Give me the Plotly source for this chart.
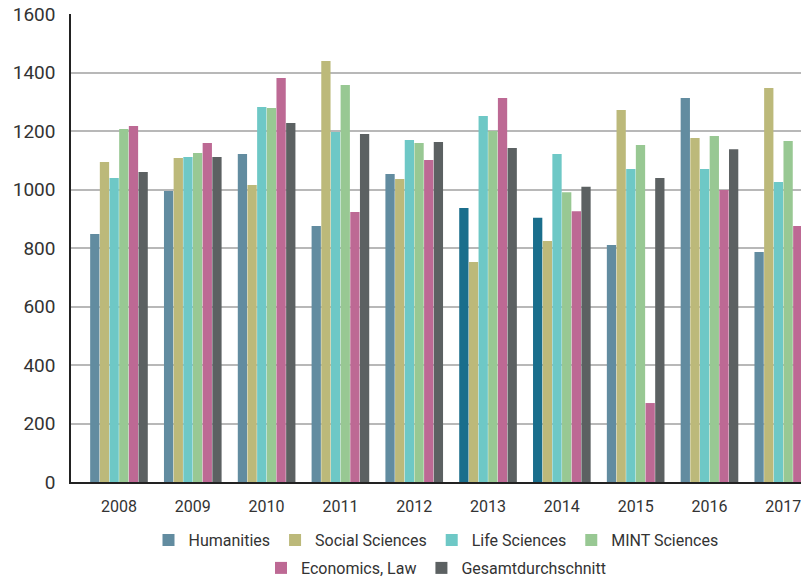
import plotly.graph_objects as go

years = ["2008", "2009", "2010", "2011", "2012", "2013", "2014", "2015", "2016", "2017"]
humanities = [848, 995, 1121, 875, 1053, 937, 903, 810, 1313, 786]
social = [1094, 1108, 1015, 1439, 1036, 752, 824, 1272, 1176, 1347]
life = [1039, 1111, 1282, 1197, 1169, 1251, 1121, 1070, 1070, 1026]
mint = [1207, 1125, 1279, 1357, 1159, 1200, 991, 1152, 1183, 1166]
economics = [1217, 1159, 1381, 923, 1101, 1313, 926, 270, 998, 875]
gesamt = [1060, 1111, 1227, 1190, 1162, 1142, 1009, 1039, 1138, 1100]

hum_colors = ["#628ca0"] * 5 + ["#1a6e8c", "#1a6e8c"] + ["#628ca0"] * 3

series = [
    ("Humanities", humanities, hum_colors, "legend"),
    ("Social Sciences", social, "#bcb97a", "legend"),
    ("Life Sciences", life, "#6ec8c6", "legend"),
    ("MINT Sciences", mint, "#98c893", "legend"),
    ("Economics, Law", economics, "#bd6994", "legend2"),
    ("Gesamtdurchschnitt", gesamt, "#5c6162", "legend2"),
]

fig = go.Figure()
for name, vals, col, lg in series:
    fig.add_trace(go.Bar(
        x=years, y=vals, name=name, marker=dict(color=col, line=dict(width=0)),
        legend=lg,
    ))

font_family = "Roboto, DejaVu Sans, sans-serif"
fig.update_layout(
    width=801, height=578,
    margin=dict(l=71, r=0, t=14, b=96, autoexpand=False),
    plot_bgcolor="white", paper_bgcolor="white",
    barmode="group", bargap=0.214, bargroupgap=0.04,
    font=dict(family=font_family, color="#333333"),
    xaxis=dict(
        type="category", range=[-0.65, 9.24], showgrid=False,
        showline=True, linecolor="#222222", linewidth=1.5,
        tickfont=dict(size=16, color="#333333"), ticks="", automargin=False,
        ticklabelstandoff=9,
    ),
    yaxis=dict(
        range=[0, 1600], tickvals=[0, 200, 400, 600, 800, 1000, 1200, 1400, 1600],
        showgrid=True, gridcolor="#b8b8b8", gridwidth=1.5,
        showline=True, linecolor="#222222", linewidth=1.5,
        tickfont=dict(size=19, color="#333333"), ticks="", automargin=False,
        zeroline=False, ticklabelstandoff=10,
    ),
    legend=dict(
        orientation="h", x=0.5, xanchor="center",
        yref="container", y=38 / 578, yanchor="middle",
        font=dict(size=16, color="#333333"), traceorder="normal",
    ),
    legend2=dict(
        orientation="h", x=0.5, xanchor="center",
        yref="container", y=10 / 578, yanchor="middle",
        font=dict(size=16, color="#333333"), traceorder="normal",
    ),
)

fig.write_html("out.html", config={"displayModeBar": False},
               post_script="document.body.style.margin='0px';")
